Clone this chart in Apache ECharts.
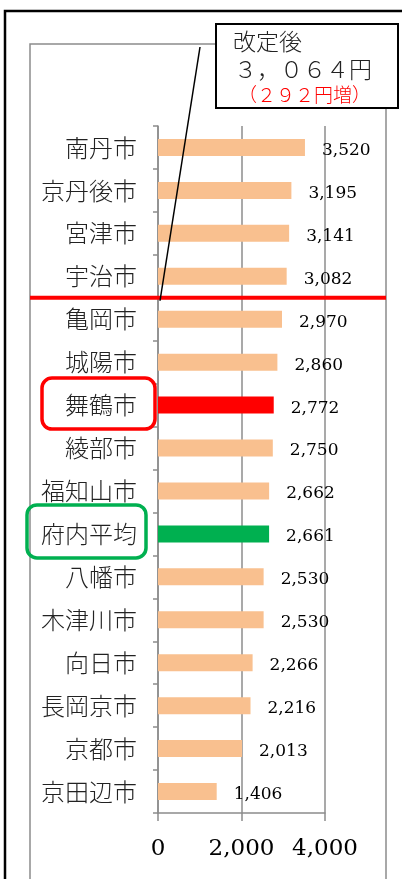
<!DOCTYPE html>
<html>
<head>
<meta charset="utf-8">
<script src="https://cdn.jsdelivr.net/npm/echarts@6/dist/echarts.min.js"></script>
<style>
  html, body { margin: 0; padding: 0; background: #fff; }
  #chart { width: 402px; height: 879px; }
</style>
</head>
<body>
<div id="chart"></div>
<script>
// 水道料金（月額）比較
const cities = ['南丹市', '京丹後市', '宮津市', '宇治市', '亀岡市', '城陽市', '舞鶴市', '綾部市',
  '福知山市', '府内平均', '八幡市', '木津川市', '向日市', '長岡京市', '京都市', '京田辺市'];
const fees = [3520, 3195, 3141, 3082, 2970, 2860, 2772, 2750, 2662, 2661, 2530, 2530, 2266, 2216, 2013, 1406];
const xTicks = [0, 2000, 4000];
const highlight = { '舞鶴市': '#ff0000', '府内平均': '#00b050' };
const barColor = '#f9c08f';
const calloutLines = ['改定後', '３，０６４円', '（２９２円増）'];

const jp = '"Noto Sans CJK JP", sans-serif';
const num = '"DejaVu Serif", serif';
const gray = '#8c8c8c';
const fmt = v => v.toLocaleString('en-US');

const myChart = echarts.init(document.getElementById('chart'));

myChart.setOption({
  animation: false,
  grid: { left: 158, right: 77, top: 126, bottom: 66, outerBoundsMode: 'none' },
  xAxis: {
    type: 'value',
    min: xTicks[0],
    max: xTicks[xTicks.length - 1],
    interval: xTicks[1] - xTicks[0],
    axisLine: { show: true, lineStyle: { color: gray, width: 1.5 } },
    axisTick: { show: true, length: 8, lineStyle: { color: gray, width: 1.5 } },
    splitLine: { show: true, lineStyle: { color: gray, width: 1.5 } },
    axisLabel: { color: '#000', fontFamily: num, fontSize: 23, margin: 25, formatter: fmt }
  },
  yAxis: {
    type: 'category',
    inverse: true,
    data: cities,
    axisLine: { show: true, lineStyle: { color: gray, width: 1.5 } },
    axisTick: { show: true, length: 5, lineStyle: { color: gray, width: 1.5 } },
    axisLabel: { color: '#222', fontFamily: jp, fontWeight: 300, fontSize: 24, margin: 21 }
  },
  series: [{
    type: 'bar',
    barWidth: 17,
    data: fees.map((v, i) => ({
      value: v,
      itemStyle: { color: highlight[cities[i]] || barColor }
    })),
    label: {
      show: true,
      position: 'right',
      distance: 17,
      offset: [0, 3],
      color: '#000',
      fontFamily: num,
      fontSize: 17,
      formatter: p => fmt(p.value)
    }
  }]
});

// annotations placed from the axes
const yOf = name => myChart.convertToPixel({ yAxisIndex: 0 }, name);
const x0 = myChart.convertToPixel({ xAxisIndex: 0 }, 0);
const redY = (yOf('宇治市') + yOf('亀岡市')) / 2;
const maiY = yOf('舞鶴市');
const aveY = yOf('府内平均');

myChart.setOption({
  graphic: [
    { type: 'rect', shape: { x: 5, y: 11, width: 430, height: 900 },
      style: { fill: null, stroke: '#000', lineWidth: 2.5 }, z: 1 },
    { type: 'rect', shape: { x: 30, y: 44, width: 356, height: 900 },
      style: { fill: null, stroke: gray, lineWidth: 1.5 }, z: 1 },
    { type: 'line', shape: { x1: 30, y1: redY, x2: 386, y2: redY },
      style: { stroke: '#ff0000', lineWidth: 4 }, z: 20 },
    { type: 'line', shape: { x1: x0 + 2, y1: redY + 3, x2: 200, y2: 47 },
      style: { stroke: '#000', lineWidth: 1.5 }, z: 21 },
    { type: 'rect', shape: { x: 216, y: 24, width: 182, height: 84 },
      style: { fill: '#fff', stroke: '#000', lineWidth: 2 }, z: 22 },
    { type: 'text', x: 233, y: 41, z: 23,
      style: { text: calloutLines[0], fill: '#222', font: '300 23px ' + jp, verticalAlign: 'middle' } },
    { type: 'text', x: 234, y: 69, z: 23,
      style: { text: calloutLines[1], fill: '#222', font: '300 23px ' + jp, verticalAlign: 'middle' } },
    { type: 'text', x: 238, y: 95, z: 23,
      style: { text: calloutLines[2], fill: '#ff0000', font: '300 19px ' + jp, verticalAlign: 'middle' } },
    { type: 'rect', shape: { x: 42, y: maiY - 27, width: 113, height: 51, r: 10 },
      style: { fill: null, stroke: '#ff0000', lineWidth: 3.5 }, z: 20 },
    { type: 'rect', shape: { x: 27, y: aveY - 29, width: 119, height: 53, r: 10 },
      style: { fill: null, stroke: '#00b050', lineWidth: 3.5 }, z: 20 }
  ]
});

window.addEventListener('resize', () => myChart.resize());
</script>
</body>
</html>
